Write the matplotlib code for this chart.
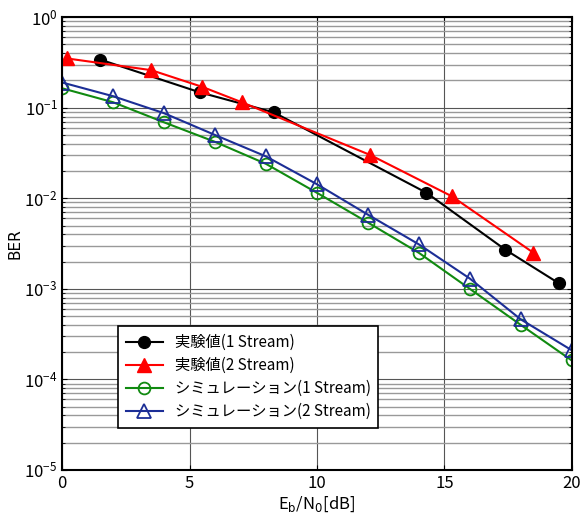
import matplotlib
matplotlib.use("Agg")
import matplotlib.pyplot as plt
from matplotlib.ticker import LogLocator, NullFormatter

# Data
exp1_x = [1.5, 5.4, 8.3, 14.3, 17.4, 19.5]
exp1_y = [0.34, 0.148, 0.089, 0.0115, 0.0027, 0.00115]
exp2_x = [0.2, 3.5, 5.5, 7.05, 12.1, 15.3, 18.5]
exp2_y = [0.35, 0.26, 0.17, 0.115, 0.030, 0.0105, 0.0025]
sim_x = [0, 2, 4, 6, 8, 10, 12, 14, 16, 18, 20]
sim1_y = [0.164, 0.115, 0.069, 0.042, 0.024, 0.0115, 0.0054, 0.0025, 0.0010, 0.0004, 0.000162]
sim2_y = [0.19, 0.134, 0.087, 0.050, 0.029, 0.0143, 0.0066, 0.0031, 0.0013, 0.00046, 0.00021]
labels = ["実験値(1 Stream)", "実験値(2 Stream)",
          "シミュレーション(1 Stream)", "シミュレーション(2 Stream)"]
xticks = [0, 5, 10, 15, 20]

plt.rcParams['font.family'] = ['Liberation Sans Narrow', 'Noto Sans CJK JP', 'DejaVu Sans']

fig = plt.figure(figsize=(5.81, 5.21), dpi=100)
ax = fig.add_axes([0.107, 0.098, 0.877, 0.869])

ax.plot(exp1_x, exp1_y, '-o', color='black', lw=1.5, ms=8.5, label=labels[0])
ax.plot(exp2_x, exp2_y, '-^', color='#ff0000', lw=1.5, ms=10, label=labels[1])
ax.plot(sim_x, sim1_y, '-o', color='#108a10', lw=1.5, ms=8.5, mfc='none', mew=1.3, label=labels[2])
ax.plot(sim_x, sim2_y, '-^', color='#1c2e96', lw=1.5, ms=9.5, mfc='none', mew=1.3, label=labels[3])

ax.set_yscale('log')
ax.set_xlim(0, 20)
ax.set_ylim(1e-5, 1)
ax.set_xticks(xticks)
ax.yaxis.set_major_locator(LogLocator(base=10, numticks=10))
ax.yaxis.set_minor_locator(LogLocator(base=10, subs=range(2, 10), numticks=100))
ax.yaxis.set_minor_formatter(NullFormatter())

ax.grid(True, which='major', axis='both', color='#555555', lw=0.8)
ax.grid(True, which='minor', axis='y', color='#999999', lw=1.0)
ax.set_axisbelow(True)
ax.tick_params(direction='in', which='both', top=True, right=True, labelsize=12)
for s in ax.spines.values():
    s.set_linewidth(1.5)

ax.set_xlabel('E$_\\mathrm{b}$/N$_\\mathrm{0}$[dB]', fontsize=12, labelpad=2)
ax.set_ylabel('BER', fontsize=11, family=['DejaVu Sans'], labelpad=1)

leg = ax.legend(loc='lower left', bbox_to_anchor=(0.11, 0.093), borderaxespad=0, fancybox=False,
                edgecolor='black', framealpha=1, handlelength=2.4, borderpad=0.5,
                labelspacing=0.4, prop={'family': ['Noto Sans CJK JP', 'DejaVu Sans'], 'size': 11})
leg.get_frame().set_linewidth(1.2)

fig.savefig('out.png', dpi=100)
